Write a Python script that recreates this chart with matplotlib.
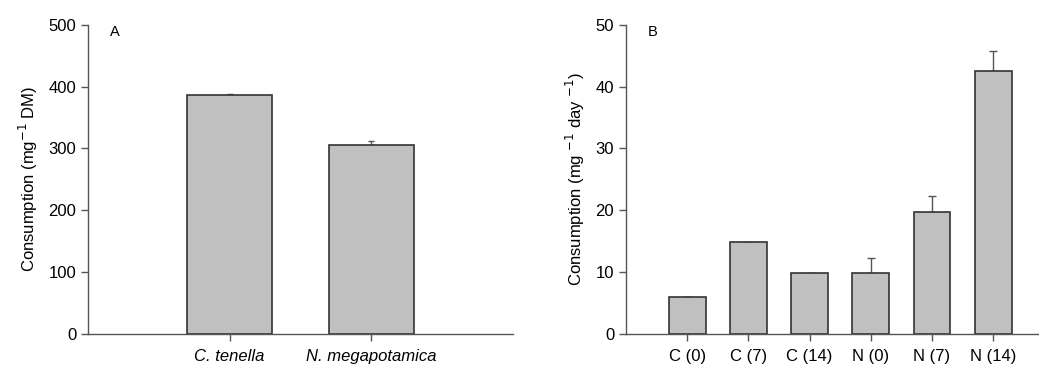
import numpy as np
import matplotlib
matplotlib.use('Agg')
import matplotlib.pyplot as plt

plt.rcParams.update({
    "font.family": ["Liberation Sans", "DejaVu Sans"],
    "font.size": 12,
    "axes.linewidth": 1.0,
    "xtick.direction": "out",
    "ytick.direction": "out",
})

# Panel A data
species = ["C. tenella", "N. megapotamica"]
total_cons = [387, 306]
total_err = [1, 6]

# Panel B data
groups = ["C (0)", "C (7)", "C (14)", "N (0)", "N (7)", "N (14)"]
daily_cons = [5.9, 14.8, 9.8, 9.8, 19.8, 42.6]
daily_err = [0.1, 0.1, 0.1, 2.5, 2.5, 3.1]

BAR = "#c0c0c0"
EDGE = "#333333"
AXC = "#555555"

fig = plt.figure(figsize=(10.39, 3.65), dpi=100)
axA = fig.add_axes([0.0847, 0.085, 0.409, 0.847])
axB = fig.add_axes([0.6025, 0.085, 0.397, 0.847])


def style(ax):
    for s in ["top", "right"]:
        ax.spines[s].set_visible(False)
    for s in ["left", "bottom"]:
        ax.spines[s].set_color(AXC)
    ax.tick_params(colors=AXC, labelcolor="black", length=5, width=1, labelsize=12)
    ax.tick_params(axis="x", pad=6)


xa = np.arange(1, len(species) + 1)
axA.bar(xa, total_cons, width=0.6, color=BAR, edgecolor=EDGE, linewidth=1.2, zorder=2)
axA.errorbar(xa, total_cons, yerr=[np.zeros(len(xa)), total_err], fmt="none",
             ecolor=AXC, elinewidth=1, capsize=2.5, zorder=1)
axA.set_xlim(0, 3)
axA.set_ylim(0, 500)
axA.set_yticks([0, 100, 200, 300, 400, 500])
axA.set_xticks(xa)
axA.set_xticklabels(species, style="italic")
axA.set_ylabel("Consumption (mg$^{-1}$ DM)", fontsize=12, labelpad=6)
style(axA)
axA.text(0.052, 1.0, "A", transform=axA.transAxes, fontsize=10.5, va="top", ha="left")

xb = np.arange(1, len(groups) + 1)
axB.bar(xb, daily_cons, width=0.6, color=BAR, edgecolor=EDGE, linewidth=1.2, zorder=2)
axB.errorbar(xb, daily_cons, yerr=[np.zeros(len(xb)), daily_err], fmt="none",
             ecolor=AXC, elinewidth=1, capsize=2.8, zorder=1)
axB.set_xlim(0, 6.74)
axB.set_ylim(0, 50)
axB.set_yticks([0, 10, 20, 30, 40, 50])
axB.set_xticks(xb)
axB.set_xticklabels(groups)
axB.set_ylabel("Consumption (mg $^{-1}$ day $^{-1}$)", fontsize=12, labelpad=6)
style(axB)
axB.text(0.053, 1.0, "B", transform=axB.transAxes, fontsize=10.5, va="top", ha="left")

fig.savefig("out.png", dpi=100, facecolor="white")
